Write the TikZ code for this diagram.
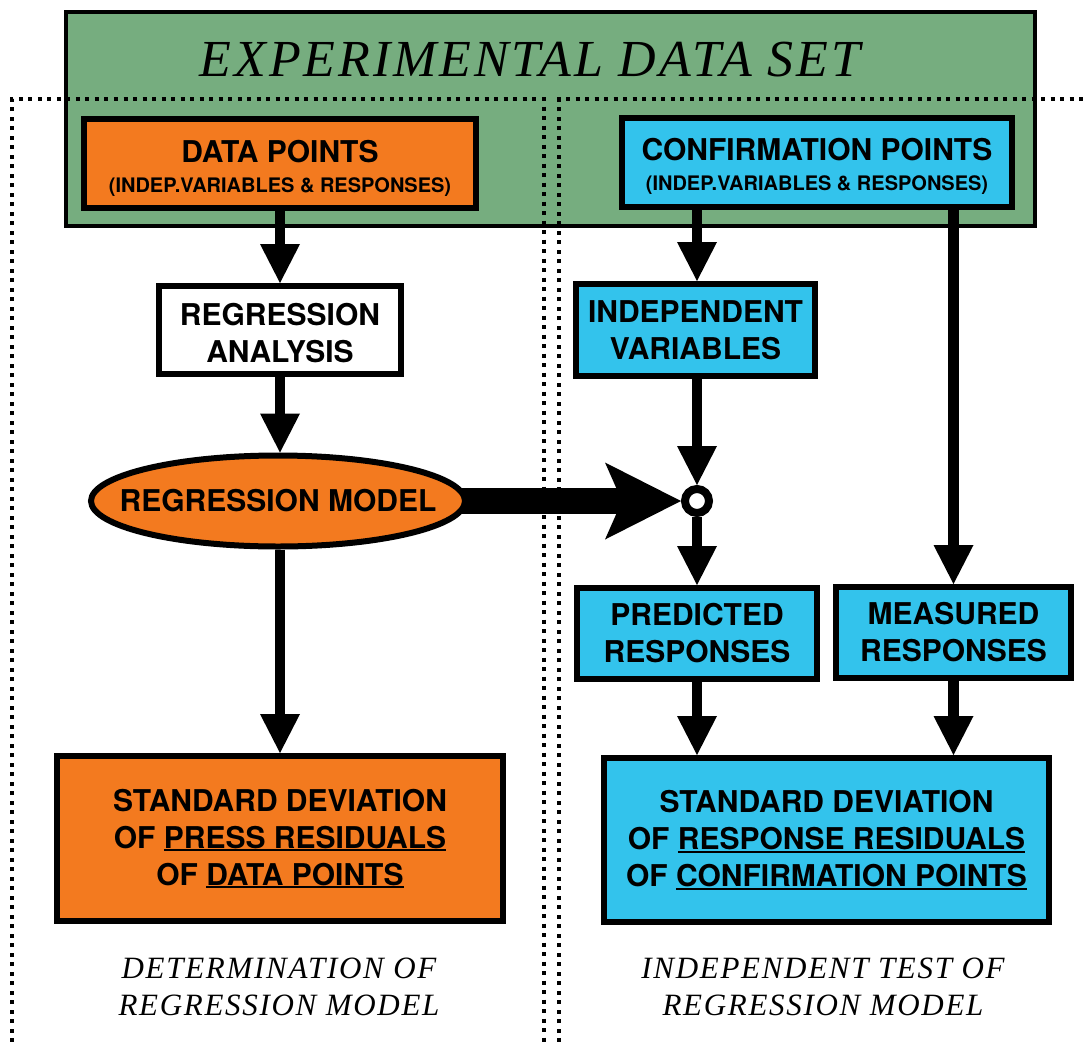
\documentclass[tikz,border=0pt]{standalone}
\usepackage{fontspec}
\newfontfamily\heros{TeX Gyre Heros}
\newfontfamily\capserif[LetterSpace=5.5]{Liberation Serif}
\usetikzlibrary{arrows.meta,shapes.geometric}
\pgfdeclarelayer{back}
\pgfsetlayers{back,main}

\definecolor{setgreen}{HTML}{76AD7F}
\definecolor{boxorange}{HTML}{F37A1F}
\definecolor{boxcyan}{HTML}{33C3EC}

% underline with a heavier rule than \underline gives at this size
\newsavebox\ulbox
\newcommand{\ulword}[1]{\sbox\ulbox{#1}\rlap{\rule[-3.2pt]{\wd\ulbox}{1.8pt}}\usebox\ulbox}
% extra room above the first line of a label
\newcommand{\topgap}[1]{\rule{0pt}{#1}}

\tikzset{
  flowbox/.style={draw, line width=6pt, inner sep=0pt, align=center,
    font=\heros\bfseries\fontsize{30}{37}\selectfont},
  orangebox/.style={flowbox, fill=boxorange},
  cyanbox/.style={flowbox, fill=boxcyan},
  plainbox/.style={flowbox, fill=white},
  flow/.style={line width=10.5pt, -{Triangle[width=40pt,length=39pt,line width=0pt]}},
  region/.style={line width=4pt, dash pattern=on 4pt off 5.5pt},
  caption/.style={font=\capserif\itshape\fontsize{31}{37}\selectfont, align=center},
}

\begin{document}
\begin{tikzpicture}[x=1pt,y=-1pt]
\useasboundingbox (0,0) rectangle (1085,1042);

% data set frame and title
\node[draw, line width=4pt, fill=setgreen, inner sep=0pt,
      minimum width=969pt, minimum height=214pt] (set) at (550.5,119) {};
\node[font=\capserif\itshape\fontsize{52}{54}\selectfont] (title) at (530,59.5) {EXPERIMENTAL DATA SET};

% the two working areas
\draw[region] (12,1042) -- (12,99) -- (543.5,99) -- (543.5,1042);
\draw[region] (559,1042) -- (559,99) -- (1085,99);

% left column: model building
\node[orangebox, minimum width=392pt, minimum height=89pt] (dp) at (280,163.5)
  {\topgap{31.5pt}DATA POINTS\\[-7pt]{\fontsize{20}{24}\selectfont (INDEP.VARIABLES \& RESPONSES)}};
\node[plainbox, minimum width=242pt, minimum height=88pt] (ra) at (280,330)
  {\topgap{27.5pt}REGRESSION\\ANALYSIS};
\node[flowbox, ellipse, fill=boxorange, inner xsep=-70pt, inner ysep=0pt,
      minimum width=374pt, minimum height=91pt] (rm) at (278,501)
  {REGRESSION MODEL};
\node[orangebox, minimum width=446pt, minimum height=165pt] (sdl) at (280,838.5)
  {STANDARD DEVIATION\\OF \ulword{PRESS RESIDUALS}\\OF \ulword{DATA POINTS}};

% right column: confirmation
\node[cyanbox, minimum width=390pt, minimum height=89pt] (cp) at (817,162.5)
  {\topgap{29.5pt}CONFIRMATION POINTS\\[-7pt]{\fontsize{20}{24}\selectfont (INDEP.VARIABLES \& RESPONSES)}};
\node[cyanbox, minimum width=239pt, minimum height=92pt] (iv) at (695.5,330)
  {INDEPENDENT\\VARIABLES};
\node[circle, draw, line width=8pt, fill=white, inner sep=0pt, minimum size=24pt] (jn) at (697,501) {};
\node[cyanbox, minimum width=240pt, minimum height=91pt] (pr) at (697,633.5)
  {PREDICTED\\RESPONSES};
\node[cyanbox, minimum width=235pt, minimum height=91pt] (mr) at (953.5,632.5)
  {MEASURED\\RESPONSES};
\node[cyanbox, minimum width=445pt, minimum height=164pt] (sdr) at (826.5,840)
  {STANDARD DEVIATION\\OF \ulword{RESPONSE RESIDUALS}\\OF \ulword{CONFIRMATION POINTS}};

% captions
\node[caption] (capl) at (279,987) {DETERMINATION OF\\REGRESSION MODEL};
\node[caption] (capr) at (823,987) {INDEPENDENT TEST OF\\REGRESSION MODEL};

% connectors
\draw[flow] (dp.south) -- (ra.north);
\draw[flow] (ra.south) -- (ra.south |- rm.north);
\draw[flow] (ra.south |- rm.south) -- (sdl.north);
\draw[flow] (jn |- cp.south) -- (jn |- iv.north);
\draw[flow] (jn |- iv.south) -- (jn.north);
\draw[flow] (jn.south) -- (pr.north);
\draw[flow] (mr.north |- cp.south) -- (mr.north);
\draw[flow] (pr.south) -- (pr.south |- sdr.north);
\draw[flow] (mr.south) -- (mr.south |- sdr.north);

% model applied to the confirmation variables
\begin{pgfonlayer}{back}
  \fill[white] (0,0) rectangle (1085,1042);
  \draw[line width=26pt, -{Stealth[length=76pt,width=77pt,inset=17pt,line width=0pt]}]
    (rm.center) -- (jn.west);
\end{pgfonlayer}
\end{tikzpicture}
\end{document}
